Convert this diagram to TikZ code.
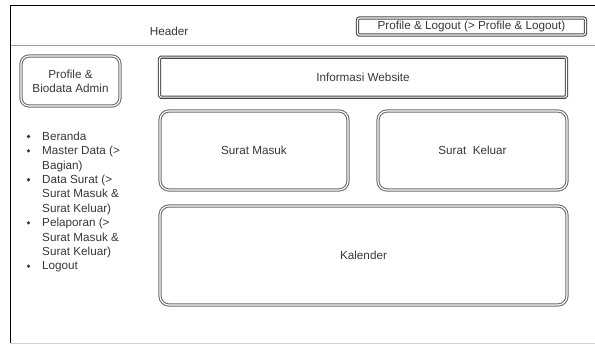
\documentclass[tikz,border=0pt]{standalone}
\usepackage{fontspec}
\setmainfont{Liberation Sans}
\definecolor{txt}{RGB}{55,55,55}
\definecolor{bord}{RGB}{105,105,105}
\definecolor{bdark}{RGB}{70,70,70}
\begin{document}
\begin{tikzpicture}[x=1pt,y=-1pt,
  every node/.style={font=\fontsize{11.7}{14.3}\selectfont, text=txt, inner sep=0pt},
  dbox/.style={draw=bord, double=white, double distance=1.1pt, line width=1.05pt, rounded corners=9pt, align=center},
  rbox/.style={draw=bdark, double=white, double distance=1.1pt, line width=1.05pt, rounded corners=1.5pt, align=center},
  item/.style={anchor=base west},
  dot/.style={circle, fill=txt, minimum size=3.6pt, inner sep=0pt}
]
\useasboundingbox (0,0) rectangle (595,345);
% frame
\coordinate (tl) at (10.5,6);
\coordinate (tr) at (595,6);
\coordinate (bl) at (10.5,343);
\coordinate (br) at (595,343);
\coordinate (hl) at (10.5,45);
\coordinate (hr) at (595,45);
\draw[line width=1pt, black] (tr) -- (tl) -- (bl);
\draw[line width=0.6pt, gray!35] (bl) -- (br);
\draw[line width=0.9pt, gray!75] (hl) -- (hr);

\node (header) at (169,31) {Header};
\node[rbox, rounded corners=2pt, minimum width=228pt, minimum height=17pt] (plog) at (471.5,26.5) {Profile \& Logout (> Profile \& Logout)};

\node[dbox, rounded corners=8pt, minimum width=99pt, minimum height=50pt] (prof) at (70.5,81) {Profile \&\\Biodata Admin};
\node[rbox, minimum width=407pt, minimum height=40pt] (info) at (363,77.2) {Informasi Website};
\node[dbox, minimum width=188pt, minimum height=79pt] (masuk) at (254,150.5) {Surat Masuk};
\node[dbox, minimum width=189pt, minimum height=79pt] (keluar) at (472.5,150.5) {Surat\ \ Keluar};
\node[dbox, minimum width=407pt, minimum height=99pt] (kal) at (363.5,255.5) {Kalender};

% list
\foreach \t/\y/\b [count=\i] in {
  Beranda/136/1,
  Master Data (>/150.4/1,
  Bagian)/164.8/0,
  Data Surat (>/179.2/1,
  Surat Masuk \&/193.6/0,
  Surat Keluar)/208/0,
  Pelaporan (>/222.4/1,
  Surat Masuk \&/236.8/0,
  Surat Keluar)/251.2/0,
  Logout/265.6/1}{
  \node[item] (l\i) at (42,\y+4.2) {\t};
  \ifnum\b=1 \node[dot] (b\i) at (28.5,\y+0.5) {}; \fi
}
\end{tikzpicture}
\end{document}
